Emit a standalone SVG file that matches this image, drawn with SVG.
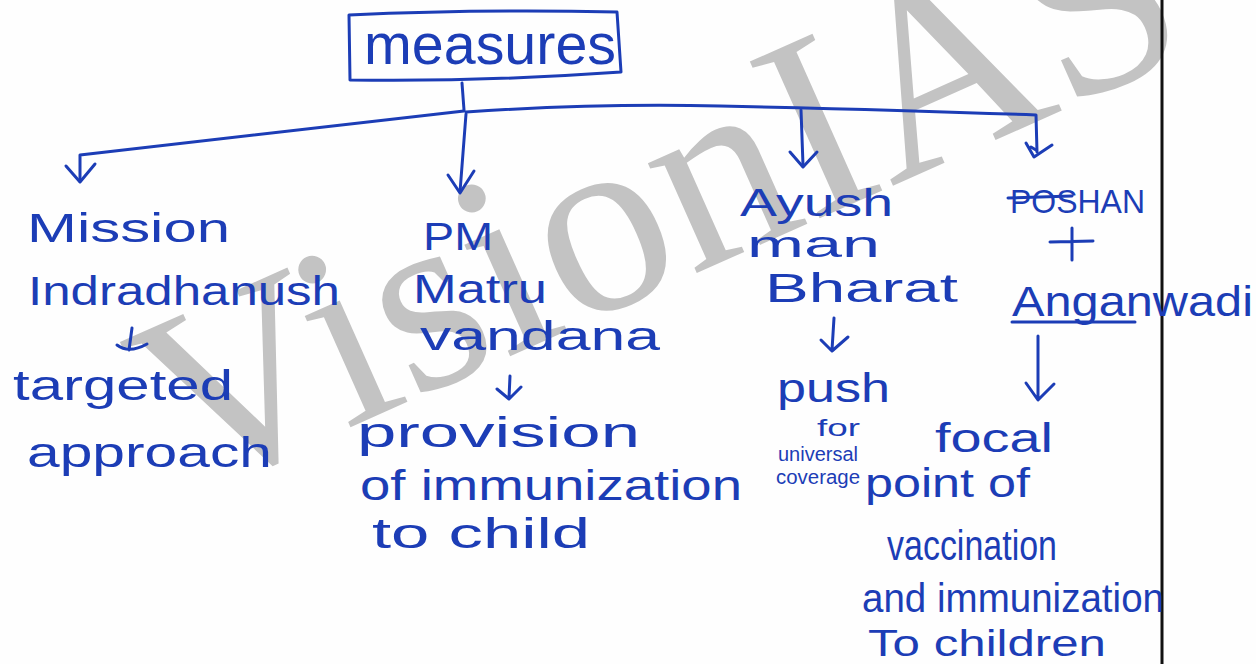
<svg xmlns="http://www.w3.org/2000/svg" width="1256" height="664" viewBox="0 0 1256 664">
<style>
.h{font-family:"Liberation Sans","DejaVu Sans",sans-serif;fill:#1c3db6}
.c{fill:none;stroke:#1c3db6;stroke-width:3;stroke-linecap:round;stroke-linejoin:round}
.wm{font-family:"Liberation Serif","DejaVu Serif",serif;font-size:262px;fill:#c3c3c3}
</style>
<rect width="1256" height="664" fill="#fefefe"/>
<text class="wm" transform="translate(187,500) rotate(-24)">VisionIAS</text>
<line x1="1162" y1="0" x2="1162" y2="664" stroke="#111" stroke-width="3"/>

<g id="measures">
<path class="c" d="M349 15 Q480 9 617 12 L621 72 Q480 82 350 80 Z"/>
<text class="h" x="364" y="64" font-size="58" textLength="252" lengthAdjust="spacingAndGlyphs">measures</text>
</g>

<g id="connectors">
<path class="c" d="M462 83 L464 110"/>
<path class="c" d="M464 111 L80 155 L80 181"/>
<path class="c" d="M66 166 L80 182 L95 164"/>
<path class="c" d="M466 112 Q600 103 720 106 Q900 110 1036 115 L1037 152"/>
<path class="c" d="M1026 143 L1034 157 L1052 145 M1031 147 L1036 150"/>
<path class="c" d="M466 114 L460 192"/>
<path class="c" d="M448 175 L460 193 L474 171"/>
<path class="c" d="M801 110 L803 165"/>
<path class="c" d="M790 152 L803 167 L817 152"/>
<path class="c" d="M132 328 L129 350 M117 345 Q129 354 147 344"/>
<path class="c" d="M510 376 L509 398 M497 389 L509 399 L521 387"/>
<path class="c" d="M834 318 L832 350 M821 340 L832 351 L848 337"/>
<path class="c" d="M1038 336 L1038 399 M1026 383 L1038 400 L1054 384"/>
<path class="c" d="M1072 228 L1072 260 M1050 242 L1093 241"/>
<path class="c" d="M1012 322 L1135 322"/>
</g>

<g id="mission">
<text class="h" x="27" y="242" font-size="40" textLength="203" lengthAdjust="spacingAndGlyphs">Mission</text>
<text class="h" x="28" y="305" font-size="40" textLength="312" lengthAdjust="spacingAndGlyphs">Indradhanush</text>
<text class="h" x="13" y="400" font-size="42" textLength="220" lengthAdjust="spacingAndGlyphs">targeted</text>
<text class="h" x="27" y="467" font-size="42" textLength="245" lengthAdjust="spacingAndGlyphs">approach</text>
</g>

<g id="pm">
<text class="h" x="423" y="250" font-size="38" textLength="70" lengthAdjust="spacingAndGlyphs">PM</text>
<text class="h" x="413" y="303" font-size="40" textLength="134" lengthAdjust="spacingAndGlyphs">Matru</text>
<text class="h" x="420" y="350" font-size="40" textLength="240" lengthAdjust="spacingAndGlyphs">vandana</text>
<text class="h" x="357" y="447" font-size="42" textLength="283" lengthAdjust="spacingAndGlyphs">provision</text>
<text class="h" x="360" y="500" font-size="42" textLength="382" lengthAdjust="spacingAndGlyphs">of immunization</text>
<text class="h" x="372" y="548" font-size="42" textLength="218" lengthAdjust="spacingAndGlyphs">to child</text>
</g>

<g id="ayush">
<text class="h" x="740" y="216" font-size="38" textLength="153" lengthAdjust="spacingAndGlyphs">Ayush</text>
<text class="h" x="747" y="257" font-size="36" textLength="133" lengthAdjust="spacingAndGlyphs">man</text>
<text class="h" x="765" y="302" font-size="40" textLength="193" lengthAdjust="spacingAndGlyphs">Bharat</text>
<text class="h" x="777" y="402" font-size="40" textLength="113" lengthAdjust="spacingAndGlyphs">push</text>
<text class="h" x="817" y="436" font-size="24" textLength="43" lengthAdjust="spacingAndGlyphs">for</text>
<text class="h" x="778" y="461" font-size="20" textLength="80" lengthAdjust="spacingAndGlyphs">universal</text>
<text class="h" x="776" y="484" font-size="20" textLength="84" lengthAdjust="spacingAndGlyphs">coverage</text>
</g>

<g id="poshan">
<text class="h" x="1010" y="213" font-size="34" textLength="135" lengthAdjust="spacingAndGlyphs">POSHAN</text>
<path class="c" d="M1008 198 L1072 196"/>
<text class="h" x="1012" y="316" font-size="42" textLength="241" lengthAdjust="spacingAndGlyphs">Anganwadi</text>
<text class="h" x="935" y="452" font-size="40" textLength="118" lengthAdjust="spacingAndGlyphs">focal</text>
<text class="h" x="865" y="497" font-size="40" textLength="165" lengthAdjust="spacingAndGlyphs">point of</text>
<text class="h" x="887" y="560" font-size="42" textLength="170" lengthAdjust="spacingAndGlyphs">vaccination</text>
<text class="h" x="862" y="612" font-size="40" textLength="302" lengthAdjust="spacingAndGlyphs">and immunization</text>
<text class="h" x="868" y="656" font-size="37" textLength="238" lengthAdjust="spacingAndGlyphs">To children</text>
</g>
</svg>
